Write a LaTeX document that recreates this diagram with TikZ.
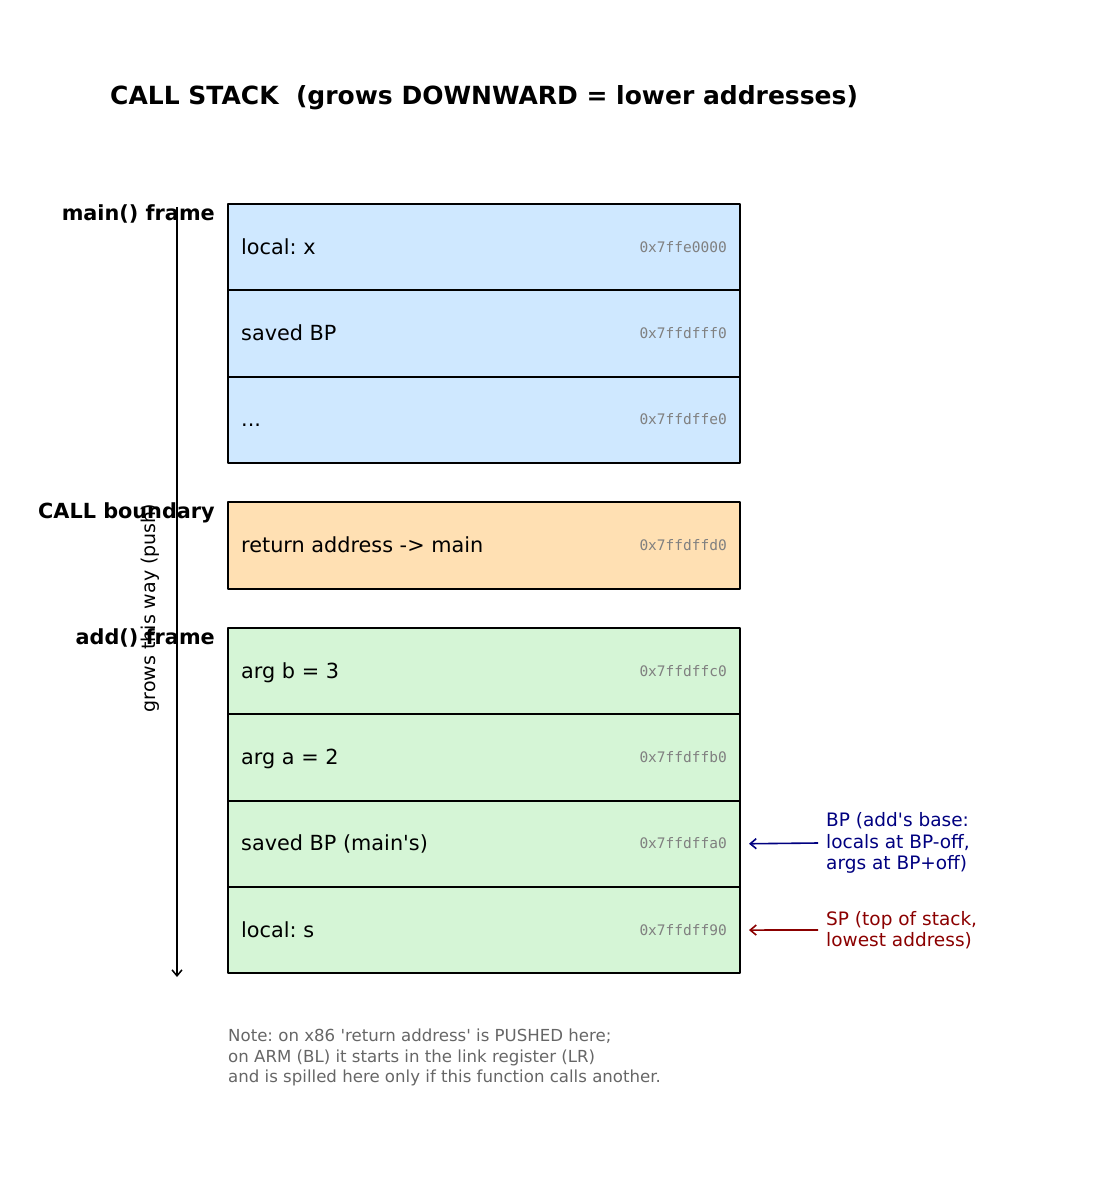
\documentclass[tikz,border=0pt]{standalone}
\usepackage{fontspec}
\usepackage{xcolor}
\usetikzlibrary{positioning,arrows.meta}
\setmainfont{DejaVu Sans}
\setmonofont{DejaVu Sans Mono}
\frenchspacing
\definecolor{mainblue}{HTML}{CFE8FF}
\definecolor{callorange}{HTML}{FFE0B3}
\definecolor{addgreen}{HTML}{D5F5D6}
\definecolor{bpnavy}{HTML}{000080}
\definecolor{spred}{HTML}{8B0000}
\definecolor{notegray}{HTML}{666666}
\definecolor{addrgray}{HTML}{808080}

\tikzset{
  cell/.style={draw, line width=1.8pt, minimum width=512pt, minimum height=86.3pt,
    inner sep=0pt, outer sep=0pt},
  lbl/.style={anchor=base west, inner sep=0pt, font=\fontsize{20.8}{25}\selectfont},
  addr/.style={anchor=base east, inner sep=0pt, text=addrgray,
    font=\ttfamily\fontsize{14.5}{17}\selectfont},
  framelbl/.style={anchor=base east, inner sep=0pt,
    font=\bfseries\fontsize{20.8}{25}\selectfont},
  pointer/.style={line width=1.6pt, -{Straight Barb[length=6pt,width=10pt]}},
  side/.style={anchor=west, inner sep=0pt, align=left,
    font=\fontsize{18.5}{21.5}\selectfont},
}

\begin{document}
\frenchspacing
\begin{tikzpicture}[x=1pt, y=-1pt, line join=round]
  \useasboundingbox (0,0) rectangle (1096,1185);
  % title
  \node[anchor=base west, inner sep=0pt, font=\bfseries\fontsize{25}{30}\selectfont]
    (title) at (110,105) {CALL STACK\ \ (grows DOWNWARD = lower addresses)};
  % main() frame
  \node[cell, fill=mainblue] (m1) at (484,247.15) {};
  \node[cell, fill=mainblue, below=0pt of m1] (m2) {};
  \node[cell, fill=mainblue, below=0pt of m2] (m3) {};
  % call boundary
  \node[cell, fill=callorange] (r1) at (484,545.5) {};
  % add() frame
  \node[cell, fill=addgreen] (a1) at (484,671.15) {};
  \node[cell, fill=addgreen, below=0pt of a1] (a2) {};
  \node[cell, fill=addgreen, below=0pt of a2] (a3) {};
  \node[cell, fill=addgreen, below=0pt of a3] (a4) {};
  % cell texts and addresses
  \foreach \c/\t/\a in {m1/{local: x}/0x7ffe0000, m2/{saved BP}/0x7ffdfff0,
      m3/{...}/0x7ffdffe0, r1/{return address -> main}/0x7ffdffd0,
      a1/{arg b = 3}/0x7ffdffc0, a2/{arg a = 2}/0x7ffdffb0,
      a3/{saved BP (main\textquotesingle s)}/0x7ffdffa0, a4/{local: s}/0x7ffdff90} {
    \node[lbl] at ([xshift=13pt, yshift=-7pt]\c.west) {\t};
    \node[addr] at ([xshift=-13pt, yshift=-5pt]\c.east) {\a};
  }
  % frame labels
  \node[framelbl] (mainlbl) at (215,220) {main() frame};
  \node[framelbl] (calllbl) at (215,518) {CALL boundary};
  \node[framelbl] (addlbl) at (215,644) {add() frame};
  % growth direction
  \coordinate (gtop) at (177,207);
  \coordinate (gbot) at (177,977);
  \draw[pointer, line width=1.5pt] (gtop) -- (gbot);
  \node[rotate=90, inner sep=0pt, font=\fontsize{19}{23}\selectfont]
    (growlbl) at (150,608) {grows this way (push)};
  % register pointers
  \node[side, text=bpnavy] (bplbl) at (826,843)
    {BP (add\textquotesingle s base:\\locals at BP-off,\\args at BP+off)};
  \node[side, text=spred] (splbl) at (826,930)
    {SP (top of stack,\\lowest address)};
  \draw[pointer, bpnavy] ([xshift=-8pt]bplbl.west) -- ([xshift=9pt]a3.east);
  \draw[pointer, spred] ([xshift=-8pt]splbl.west) -- ([xshift=9pt]a4.east);
  % note
  \node[anchor=north west, inner sep=0pt, align=left, text=notegray,
    font=\fontsize{16.6}{20.5}\selectfont] (note) at (228,1029)
    {Note: on x86 \textquotesingle return address\textquotesingle\ is PUSHED here;\\
     on ARM (BL) it starts in the link register (LR)\\
     and is spilled here only if this function calls another.};
\end{tikzpicture}
\end{document}
